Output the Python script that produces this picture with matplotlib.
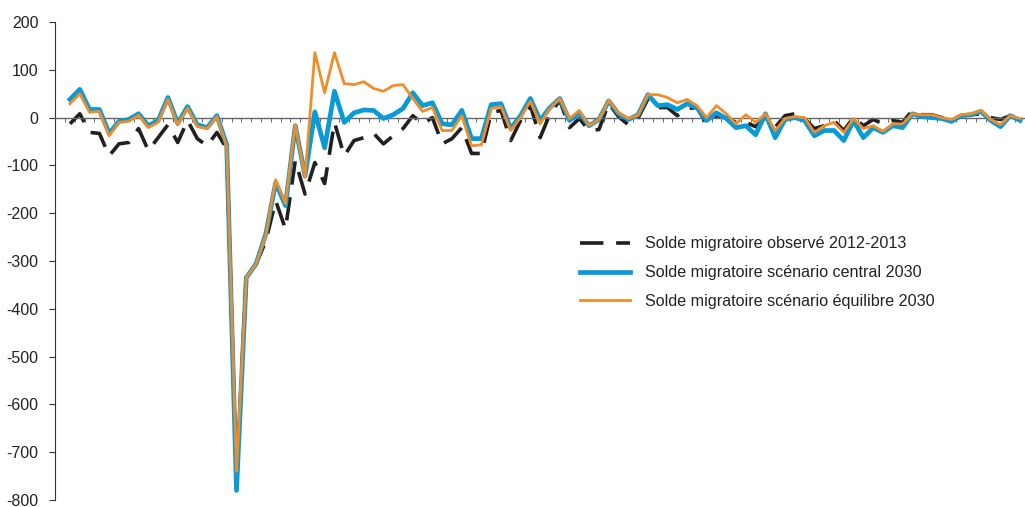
import matplotlib
matplotlib.use("Agg")
import matplotlib.pyplot as plt
import numpy as np

plt.rcParams['font.family'] = ['Liberation Sans', 'DejaVu Sans']

# Âge (0 à 97 ans)
ages = list(range(98))

observe_2012_2013 = [
    -13, 8, -31, -33, -80, -55, -52, -23, -69, -42,
    -15, -52, -6, -44, -59, -31, -65, -760, -330, -306,
    -258, -174, -233, -90, -160, -94, -138, -10, -80, -48,
    -42, -33, -55, -38, -23, 4, -13, 0, -55, -44,
    -21, -75, -75, 10, 15, -48, -6, 25, -42, 8,
    36, -21, -2, -27, -25, 30, 2, -15, -1, 39,
    21, 21, 4, 19, 21, -13, 4, 0, -10, -10,
    -19, 0, -20, 4, 8, -2, -23, -17, -6, -27,
    0, -17, -4, -13, -6, -10, 15, 6, 6, 0,
    -4, 4, 6, 8, 0, -4, 4, -2,
]

central_2030 = [
    38, 59, 17, 17, -33, -8, -4, 8, -17, -6,
    42, -12, 23, -15, -21, 4, -57, -780, -335, -306,
    -243, -136, -184, -17, -122, 12, -63, 55, -10, 10,
    16, 15, -2, 6, 19, 52, 25, 31, -13, -15,
    15, -44, -44, 27, 29, -23, 4, 40, -6, 21,
    40, -6, 10, -17, -4, 35, 8, -4, 6, 48,
    25, 27, 17, 29, 21, -6, 10, -2, -21, -17,
    -36, 8, -42, -4, 0, -6, -38, -27, -27, -48,
    -6, -42, -21, -31, -17, -21, 8, 2, 0, -2,
    -8, 4, 6, 13, -6, -19, 4, -6,
]

equilibre_2030 = [
    29, 50, 11, 13, -38, -10, -8, 5, -21, -10,
    38, -15, 20, -19, -23, 2, -60, -740, -335, -306,
    -245, -130, -180, -15, -125, 136, 52, 136, 71, 69,
    75, 61, 55, 67, 69, 40, 13, 21, -27, -27,
    4, -59, -57, 19, 23, -27, 0, 34, -13, 19,
    40, -2, 15, -17, -4, 36, 10, -2, 5, 48,
    48, 42, 31, 38, 25, 0, 25, 8, -13, 6,
    -10, 8, -27, -2, 2, 0, -31, -17, -10, -31,
    -2, -23, -17, -29, -13, -13, 8, 6, 6, 0,
    -4, 6, 8, 15, -4, -15, 4, -2,
]

labels = [
    "Solde migratoire observé 2012-2013",
    "Solde migratoire scénario central 2030",
    "Solde migratoire scénario équilibre 2030",
]

y_ticks = [200, 100, 0, -100, -200, -300, -400, -500, -600, -700, -800]

fig = plt.figure(figsize=(10.25, 5.07), dpi=100)
ax = fig.add_axes([55 / 1025, 1 - 500 / 507, 970 / 1025, 478 / 507])

col_black = "#231f20"
col_blue = "#0a9ad8"
col_orange = "#f28c28"

ax.plot(ages, observe_2012_2013, color=col_black, lw=2.6,
        dashes=(6.5, 3.5), label=labels[0], zorder=2)
ax.plot(ages, central_2030, color=col_blue, lw=3.4,
        label=labels[1], zorder=3)
ax.plot(ages, equilibre_2030, color=col_orange, lw=2.0,
        label=labels[2], zorder=4)

ax.set_xlim(-1.53, 97.45)
ax.set_ylim(-800, 200)

# y axis
ax.set_yticks(y_ticks)
ax.set_yticklabels([str(v) for v in y_ticks])
ax.tick_params(axis='y', direction='out', length=4, width=0.8,
               colors="#333333", labelsize=11.5, pad=8, labelcolor="#222222")

# x axis drawn as the zero line with small category ticks
ax.spines['top'].set_visible(False)
ax.spines['right'].set_visible(False)
ax.spines['bottom'].set_position(('data', 0))
ax.spines['bottom'].set_color("#666666")
ax.spines['bottom'].set_linewidth(1.0)
ax.spines['left'].set_color("#333333")
ax.spines['left'].set_linewidth(0.8)
ax.set_xticks(np.arange(-0.5, 98, 1.0))
ax.set_xticklabels([])
ax.tick_params(axis='x', direction='out', length=3, width=0.7, colors="#666666")

leg = ax.legend(loc='upper left', bbox_to_anchor=(519 / 970, (500 - 230) / 478),
                frameon=False, fontsize=11.6, handlelength=3.1, handletextpad=0.9,
                labelspacing=0.85, borderaxespad=0)
for t in leg.get_texts():
    t.set_color("#222222")

fig.savefig("out.png", dpi=100)
